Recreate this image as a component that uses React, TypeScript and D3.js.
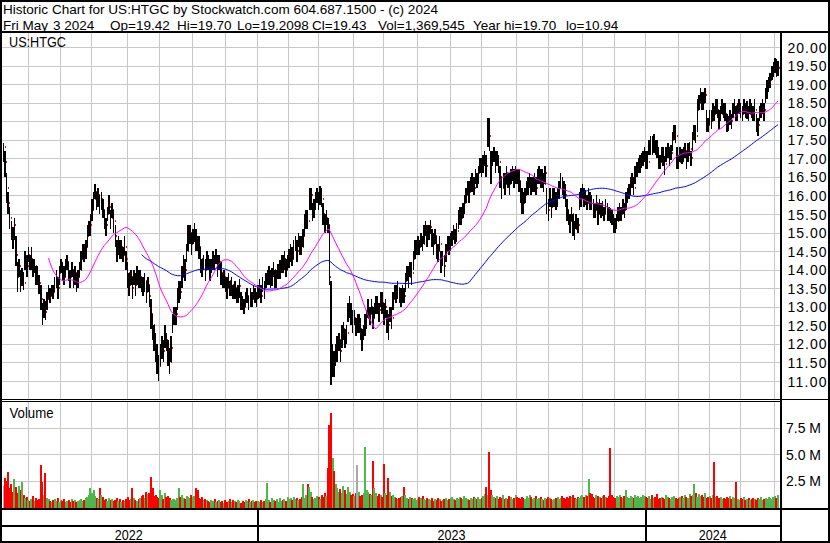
import React from 'react';
import * as d3 from 'd3';

// ---- tick labels / text ----
const titleLine1 = 'Historic Chart for US:HTGC by Stockwatch.com 604.687.1500 - (c) 2024';
const titleLine2Parts = ['Fri May', '3 2024', 'Op=19.42', 'Hi=19.70', 'Lo=19.2098', 'Cl=19.43', 'Vol=1,369,545', 'Year hi=19.70', 'lo=10.94'];
const symbolLabel = 'US:HTGC';
const priceTicks = [11, 11.5, 12, 12.5, 13, 13.5, 14, 14.5, 15, 15.5, 16, 16.5, 17, 17.5, 18, 18.5, 19, 19.5, 20];
const volTicks = [2.5, 5.0, 7.5];
const years = ['2022', '2023', '2024'];
// trading days per month (first 2022 month is partial)
const months2022 = [16, 21, 20, 23, 21, 21, 21, 21];
const months2023 = [20, 19, 23, 19, 22, 21, 20, 23, 20, 22, 21, 20];
const months2024 = [21, 20, 20, 22, 3];

// ---- daily closes ----
const close2022 = [
  17.30, 16.90, 16.20, 15.80, 15.40, 15.10, 14.85, 15.20, 14.40, 13.80, 14.10, 13.70,
  13.85, 13.65, 14.30, 14.10, 14.40, 14.20, 14.30, 14.00, 14.10, 13.90, 13.80, 13.65,
  13.20, 12.80, 13.00, 12.85, 13.20, 13.40, 13.30, 13.50, 13.40, 13.60, 13.70, 13.50, 13.90, 14.10,
  14.00, 13.80, 14.10, 14.20, 13.90, 13.80, 14.00, 13.70, 13.90, 13.60, 13.80, 14.00,
  14.30, 14.50, 14.40, 14.60, 14.90, 15.10, 15.20, 15.60, 15.90, 16.10, 15.80, 16.00,
  15.70, 15.90, 15.60, 15.30, 15.20, 15.50, 15.70, 15.40, 15.60, 15.30, 14.90, 14.50,
  14.70, 14.50, 14.60, 14.40, 14.60, 14.30, 13.90, 13.60, 13.80, 13.50, 13.80, 13.60, 13.90, 13.70,
  13.80, 13.60, 13.50, 13.70, 13.40, 13.60, 13.30, 12.80, 12.50, 12.20, 11.90,
  11.60, 11.40, 11.70, 12.00, 11.80, 12.20, 12.10, 11.80, 11.50, 11.90, 12.60, 12.70, 12.80,
  13.20, 13.50, 13.40, 13.80, 14.20, 14.00, 14.50, 14.90, 15.00, 14.70, 14.90, 15.05, 14.80, 14.70, 14.60,
  14.30, 14.10, 14.20, 14.00, 14.30, 14.20, 14.00, 14.10, 14.30, 14.20, 14.35, 14.10, 14.20,
  13.90, 13.70, 13.80, 13.60, 13.50, 13.70, 13.50, 13.60, 13.40, 13.50, 13.30, 13.40, 13.55,
  13.20, 13.10, 13.00, 13.20, 13.30, 13.10, 13.30, 13.20, 13.40, 13.30, 13.20,
];
const close2023 = [
  13.40, 13.55, 13.30, 13.60, 13.50, 13.70, 13.80,
  13.90, 13.70, 13.85, 14.00, 13.70, 13.80, 13.95, 14.05,
  14.20, 14.10, 14.30, 14.00, 14.20, 14.35,
  14.50, 14.30, 14.60, 14.70, 14.50, 14.80, 14.70, 14.60, 14.90,
  15.20, 15.40, 15.30, 15.90, 16.00, 15.50, 15.70,
  15.90, 16.00, 15.80, 16.05, 15.90, 15.50, 15.30, 15.40, 15.20,
  13.80, 11.50, 11.60, 11.50, 11.70, 11.90, 12.10, 11.80,
  12.20, 12.40, 12.10, 12.30, 12.90, 13.00, 12.80,
  12.60, 12.70, 12.50, 12.50, 12.60, 12.40, 12.20, 12.30, 12.50,
  12.70, 12.90, 12.80, 13.00, 12.70, 12.90, 13.10, 13.00, 12.90, 13.20, 13.10, 12.80, 13.00,
  12.60, 12.50, 12.80, 12.70, 13.20, 13.40, 13.30, 13.50, 13.30, 13.20, 13.40, 13.30,
  13.70, 13.90, 13.80, 14.00, 13.90, 14.30, 14.50, 14.60, 14.70, 14.60, 14.80, 14.70,
  15.00, 15.10, 14.90, 15.00, 15.15, 14.90, 14.70, 14.90, 14.60, 14.50, 14.70, 14.20, 14.30, 14.10,
  14.50, 14.70, 14.60, 14.80, 14.85, 15.00, 14.90, 15.05, 15.30, 15.50, 15.40, 15.60,
  15.80, 16.00, 16.20, 16.10, 16.30, 16.40, 16.20, 16.50, 16.40, 16.60, 16.80, 16.70, 16.90, 17.00, 16.80,
  17.90, 17.60, 16.90, 17.00, 17.10, 16.90, 17.00, 16.90,
  16.50, 16.20, 16.40, 16.30, 16.60, 16.40, 16.30, 16.50, 16.60, 16.40, 16.60, 16.50, 16.40,
  16.10, 15.90, 15.80, 16.00, 16.20, 16.30, 16.40, 16.20, 16.30, 16.40, 16.20, 16.50, 16.60,
  16.40, 16.50, 16.30, 16.60, 15.80, 15.60, 15.90, 15.70, 15.90, 16.00, 15.80, 16.00,
  16.20, 16.40, 16.30, 16.10, 16.00, 15.60, 15.40, 15.30, 15.50, 15.20, 15.10, 15.30, 15.20,
  15.80, 16.00, 16.10, 15.90, 15.95, 15.80, 16.00, 15.90, 15.80, 15.70, 15.60, 15.80, 15.50, 15.70, 15.60,
  15.65, 15.50, 15.70, 15.60, 15.50, 15.45, 15.40, 15.30, 15.20, 15.30, 15.50,
  15.60, 15.50, 15.70, 15.60, 15.90, 16.00, 16.10, 16.30, 16.40, 16.20, 16.60, 16.70, 16.80, 16.90, 16.95, 17.00, 17.10,
];
const close2024 = [
  17.00, 16.90, 17.30, 17.40, 17.30, 17.45, 17.30, 17.20,
  17.00, 16.90, 17.10, 17.00, 16.85, 17.10, 17.20, 17.00, 17.15,
  17.50, 17.70, 17.60, 17.00, 16.90, 17.10, 17.05,
  17.10, 17.20, 17.00, 17.10, 17.25, 17.00, 17.50, 17.70, 17.60,
  18.30,
  18.50, 18.70, 18.60, 18.50, 18.70,
  18.00, 17.90, 18.10, 18.00,
  18.30, 18.20, 18.40, 18.30, 18.10, 18.20, 18.40, 18.30, 18.20,
  18.00, 17.95, 18.10, 18.00,
  18.30, 18.40, 18.20, 18.30, 18.40, 18.30, 18.20, 18.40, 18.30,
  18.35, 18.20, 18.40, 18.30, 18.20, 18.30,
  18.00, 17.90,
  18.20, 18.30, 18.40, 18.30,
  18.70, 18.90, 19.00, 19.10,
  19.30, 19.40, 19.50, 19.38, 19.43,
];

// ---- high above close / low below close, in tenths ----
const hiOff2022 = [
  1, 3, 4, 3, 3, 2, 3, 2, 5, 4, 2, 3, 2, 3, 2, 3, 2, 2, 3, 3, 2, 2, 3, 2,
  4, 3, 2, 3, 2, 2, 2, 1, 2, 2, 3, 3, 2, 2, 2, 3, 2, 2, 3, 2, 2, 3, 2, 3, 2, 2,
  2, 2, 3, 2, 3, 2, 3, 3, 2, 2, 3, 2, 3, 2, 3, 3, 2, 2, 3, 2, 2, 3, 3, 3,
  2, 3, 2, 2, 3, 2, 3, 3, 2, 3, 2, 3, 2, 3, 2, 2, 3, 2, 3, 2, 3, 4, 3, 3, 4,
  4, 3, 3, 2, 3, 3, 2, 3, 4, 3, 2, 3, 2, 3, 2, 3, 3, 2, 3, 2, 3, 2, 3, 2, 2, 3, 2, 3,
  3, 2, 2, 3, 2, 2, 3, 2, 2, 2, 2, 3, 2, 3, 2, 2, 2, 3, 2, 2, 2, 2, 2, 2, 2, 2,
  2, 2, 2, 2, 2, 2, 2, 2, 2, 2, 2,
];
const loOff2022 = [
  4, 4, 4, 3, 3, 3, 3, 4, 3, 4, 3, 3, 3, 2, 3, 3, 2, 2, 3, 2, 2, 3, 2, 3,
  3, 3, 3, 2, 3, 2, 2, 2, 2, 2, 2, 3, 3, 2, 3, 2, 3, 2, 2, 3, 2, 2, 3, 2, 3, 2,
  3, 2, 2, 3, 3, 2, 3, 3, 3, 2, 2, 3, 2, 3, 2, 2, 3, 2, 2, 3, 2, 3, 3, 3,
  3, 2, 3, 2, 2, 3, 4, 3, 2, 3, 2, 3, 3, 2, 3, 2, 2, 3, 3, 2, 3, 4, 4, 4, 4,
  4, 4, 3, 4, 3, 3, 3, 4, 3, 4, 3, 2, 3, 3, 4, 2, 3, 4, 3, 3, 4, 3, 3, 2, 3, 3, 2, 3,
  4, 3, 2, 3, 3, 2, 3, 2, 3, 2, 2, 3, 2, 3, 2, 3, 2, 3, 2, 2, 3, 2, 3, 2, 3, 3,
  3, 2, 2, 2, 2, 2, 3, 2, 2, 2, 2,
];
const hiOff2023 = [
  2, 2, 3, 2, 2, 2, 2, 2, 3, 2, 2, 3, 2, 2, 2, 2, 3, 2, 3, 2, 2,
  2, 3, 2, 2, 3, 2, 2, 3, 2, 3, 2, 3, 3, 2, 3, 2, 2, 2, 3, 2, 3, 3, 2, 2, 2,
  14, 22, 4, 3, 3, 3, 2, 3, 3, 2, 3, 2, 2, 3, 3, 3, 2, 2, 3, 2, 3, 2, 2, 3,
  2, 3, 2, 2, 3, 2, 2, 3, 2, 2, 3, 3, 2, 3, 3, 2, 3, 2, 2, 3, 2, 2, 3, 2, 2,
  2, 2, 3, 2, 3, 2, 3, 2, 2, 2, 2, 2, 2, 2, 3, 2, 2, 2, 3, 2, 3, 2, 2, 3, 2, 3,
  2, 2, 3, 2, 2, 2, 2, 2, 3, 2, 3, 2, 2, 2, 2, 3, 2, 2, 3, 2, 2, 2, 2, 3, 2, 2, 3,
  2, 5, 3, 2, 2, 3, 2, 2, 3, 3, 2, 3, 2, 2, 3, 2, 2, 3, 2, 2, 3,
  3, 3, 3, 2, 2, 2, 2, 3, 2, 2, 3, 2, 2, 3, 2, 3, 2, 4, 3, 3, 2, 3, 2, 3, 2,
  2, 2, 2, 3, 3, 3, 2, 2, 2, 3, 2, 2, 2, 3, 2, 2, 3, 2, 2, 2, 2, 2, 2, 2, 2, 3, 2, 2,
  2, 2, 2, 2, 2, 2, 2, 2, 2, 2, 2, 2, 2, 2, 2, 2, 2, 2, 2, 2, 3, 2, 2, 2, 2, 2, 2, 2,
];
const loOff2023 = [
  2, 3, 2, 2, 3, 2, 2, 3, 2, 3, 2, 2, 3, 2, 3, 3, 2, 3, 2, 2, 3,
  3, 2, 3, 2, 3, 2, 3, 2, 3, 3, 3, 2, 3, 4, 2, 3, 3, 2, 2, 3, 2, 3, 3, 2, 2,
  2, 6, 5, 4, 3, 4, 3, 3, 3, 3, 2, 3, 3, 3, 3, 3, 2, 3, 2, 3, 3, 4, 2, 3,
  3, 2, 3, 2, 3, 2, 3, 2, 3, 2, 3, 3, 3, 3, 4, 2, 3, 3, 2, 2, 3, 2, 2, 3, 2,
  3, 2, 3, 2, 3, 3, 2, 2, 3, 2, 2, 2, 3, 2, 3, 2, 2, 3, 3, 2, 3, 3, 2, 3, 2, 3,
  3, 2, 2, 3, 2, 2, 2, 3, 2, 3, 2, 2, 3, 2, 2, 3, 2, 3, 2, 2, 2, 3, 2, 2, 3, 2, 3,
  6, 4, 6, 2, 2, 3, 2, 3, 3, 3, 2, 3, 3, 2, 3, 2, 2, 2, 3, 2, 3,
  3, 4, 3, 2, 2, 3, 2, 2, 2, 3, 2, 2, 3, 2, 3, 2, 3, 3, 3, 2, 3, 2, 3, 2, 3,
  3, 2, 3, 2, 3, 3, 2, 3, 2, 3, 3, 2, 2, 2, 3, 2, 2, 2, 2, 2, 3, 2, 3, 2, 2, 3, 2, 2,
  2, 2, 2, 3, 2, 2, 2, 3, 2, 2, 2, 3, 2, 2, 2, 3, 2, 2, 3, 2, 2, 3, 2, 2, 3, 2, 2, 2,
];
const hiOff2024 = [
  2, 3, 2, 2, 3, 2, 2, 3, 3, 2, 2, 3, 2, 2, 2, 3, 2, 2, 2, 3, 3, 2, 2, 2,
  2, 2, 2, 3, 2, 2, 2, 2, 3, 3, 2, 2, 2, 3, 2, 3, 2, 2, 3,
  2, 2, 2, 3, 2, 2, 2, 2, 3, 2, 2, 2, 2, 2, 2, 2, 2, 2, 2, 2, 2,
  2, 2, 2, 2, 2, 2, 3, 2, 2, 2, 2, 2, 2, 2, 2, 2, 2, 2, 2, 2, 3,
];
const loOff2024 = [
  3, 2, 2, 3, 2, 3, 2, 2, 3, 2, 2, 2, 3, 2, 2, 2, 2, 3, 2, 2, 3, 2, 2, 2,
  2, 2, 3, 2, 2, 2, 3, 2, 2, 6, 2, 2, 3, 2, 2, 3, 2, 2, 2,
  3, 2, 2, 2, 3, 2, 2, 2, 2, 3, 2, 2, 2, 2, 2, 2, 3, 2, 2, 2, 2,
  2, 3, 2, 2, 2, 2, 3, 3, 3, 2, 2, 2, 3, 2, 3, 2, 2, 2, 2, 2, 2,
];

// ---- daily volume, in units of 100,000 shares ----
const vol2022 = [
  20, 28, 25, 33, 18, 22, 15, 27, 19, 14, 20, 16, 24, 12, 9, 10, 7, 6, 8, 11,
  6, 9, 7, 8, 40, 24, 12, 32, 9, 8, 6, 5, 7, 8, 6, 9, 5, 7, 6, 8,
  5, 6, 7, 5, 8, 6, 7, 5, 6, 7, 8, 6, 7, 9, 10, 12, 18, 14, 16, 11,
  9, 8, 18, 12, 10, 7, 8, 6, 9, 7, 8, 6, 7, 9, 6, 8, 5, 7, 6, 8,
  10, 7, 8, 18, 9, 7, 6, 8, 9, 11, 12, 9, 15, 13, 14, 29, 18, 11, 12, 10,
  9, 16, 12, 8, 14, 10, 11, 9, 7, 8, 8, 7, 9, 18, 10, 12, 9, 8, 11, 10,
  9, 12, 10, 11, 18, 16, 9, 8, 10, 7, 8, 7, 6, 5, 7, 6, 8, 5, 6, 7,
  5, 6, 4, 7, 5, 6, 8, 5, 7, 6, 5, 7, 6, 4, 6, 5, 7, 6, 8, 5,
  6, 7, 5, 6,
];
const vol2023 = [
  6, 5, 7, 5, 6, 8, 23, 7, 5, 9, 7, 6, 8, 5, 9, 6, 7, 8, 6, 10,
  8, 9, 7, 10, 8, 9, 7, 8, 10, 22, 9, 12, 22, 19, 15, 10, 8, 9, 11, 10,
  8, 12, 10, 14, 11, 37, 77, 89, 46, 34, 22, 18, 15, 17, 14, 20, 16, 13, 19, 15,
  12, 13, 11, 14, 40, 15, 11, 12, 14, 57, 16, 15, 13, 12, 44, 18, 14, 11, 13, 12,
  10, 41, 14, 12, 28, 15, 11, 12, 10, 9, 8, 9, 10, 11, 19, 12, 9, 8, 10, 9,
  8, 9, 7, 8, 10, 9, 11, 8, 7, 9, 8, 7, 9, 6, 8, 7, 9, 8, 6, 7,
  8, 9, 7, 8, 9, 10, 8, 7, 9, 8, 10, 9, 8, 11, 9, 8, 7, 9, 8, 10,
  9, 8, 10, 8, 9, 11, 13, 19, 12, 52, 16, 12, 10, 9, 11, 8, 10, 9, 12, 8,
  9, 8, 11, 10, 8, 9, 12, 10, 9, 8, 10, 9, 8, 11, 9, 12, 10, 8, 9, 11,
  8, 9, 10, 8, 7, 9, 8, 10, 9, 8, 7, 8, 9, 10, 8, 9, 11, 9, 8, 10,
  9, 11, 10, 12, 9, 8, 10, 9, 11, 12, 10, 12, 11, 27, 14, 13, 10, 9, 12, 11,
  10, 9, 11, 12, 10, 9, 11, 56, 12, 10, 9, 11, 10, 12, 10, 9, 11, 16, 10, 9,
  11, 10, 9, 12, 10, 11, 9, 10, 12, 11,
];
const vol2024 = [
  10, 9, 11, 8, 12, 9, 10, 13, 8, 9, 10, 9, 8, 12, 10, 9, 8, 10, 11, 9,
  8, 9, 10, 11, 9, 12, 10, 9, 13, 11, 12, 22, 14, 10, 13, 11, 12, 10, 14, 9,
  10, 11, 9, 12, 43, 10, 11, 9, 10, 8, 9, 8, 10, 9, 11, 8, 10, 9, 24, 8,
  7, 9, 8, 10, 7, 8, 9, 7, 8, 9, 8, 7, 9, 8, 10, 7, 8, 9, 8, 10,
  9, 8, 10, 11, 9, 12,
];

const W = 830;
const H = 543;
const FONT = '"Liberation Sans", Arial, sans-serif';

function sma(arr: number[], n: number): (number | null)[] {
  return arr.map((_, i) => (i < n - 1 ? null : (d3.mean(arr.slice(i - n + 1, i + 1)) as number)));
}

export default function App() {
  const closes = [...close2022, ...close2023, ...close2024];
  const hiOff = [...hiOff2022, ...hiOff2023, ...hiOff2024];
  const loOff = [...loOff2022, ...loOff2023, ...loOff2024];
  const vols = [...vol2022, ...vol2023, ...vol2024].map((v) => v / 10);
  const N = closes.length;
  const highs = closes.map((c, i) => c + (hiOff[i] ?? 2) / 10);
  const lows = closes.map((c, i) => c - (loOff[i] ?? 2) / 10);

  const plotRight = 780;
  const x = d3.scaleLinear().domain([0, N - 1]).range([3.5, 778]);
  const step = x(1) - x(0);
  const y = d3.scaleLinear().domain([11, 20]).range([381, 47]);
  const yv = d3.scaleLinear().domain([0, 7.5]).range([507.5, 427.5]);

  const allMonths = [...months2022, ...months2023, ...months2024];
  const monthStarts: number[] = [];
  let acc = 0;
  allMonths.forEach((m) => {
    if (acc > 0) monthStarts.push(acc);
    acc += m;
  });
  const n22 = months2022.reduce((a, b) => a + b, 0);
  const n23 = months2023.reduce((a, b) => a + b, 0);
  const yearStarts = [0, n22, n22 + n23, N];
  const gx = (i: number) => Math.round(x(i) - step / 2) + 0.5;

  const ma30 = sma(closes, 30);
  const ma90 = sma(closes, 90);
  const line = d3
    .line<number | null>()
    .defined((d) => d != null)
    .x((_, i) => x(i))
    .y((d) => y(d as number));

  const grid = '#c8c8c8';
  // x positions of the second header line's fields
  const line2X = [3, 53, 110, 177, 237, 312, 378, 473, 566];

  return (
    <svg width={W} height={H} style={{ position: 'absolute', left: 0, top: 0, background: '#fff' }} fontFamily={FONT}>
      <defs>
        <clipPath id="pc">
          <rect x={2} y={33} width={plotRight - 2} height={366} />
        </clipPath>
        <clipPath id="vc">
          <rect x={2} y={402} width={plotRight - 2} height={106} />
        </clipPath>
      </defs>
      <rect x={0} y={0} width={W} height={H} fill="#fff" />

      {/* gridlines */}
      <g shapeRendering="crispEdges" stroke={grid} strokeWidth={1}>
        {priceTicks.map((p) => (
          <line key={'hp' + p} x1={2} x2={plotRight} y1={Math.round(y(p)) + 0.5} y2={Math.round(y(p)) + 0.5} />
        ))}
        {volTicks.map((v) => (
          <line key={'hv' + v} x1={2} x2={plotRight} y1={Math.round(yv(v)) + 0.5} y2={Math.round(yv(v)) + 0.5} />
        ))}
        {monthStarts.map((i) => (
          <g key={'m' + i}>
            <line x1={gx(i)} x2={gx(i)} y1={33} y2={399} />
            <line x1={gx(i)} x2={gx(i)} y1={402} y2={508} />
          </g>
        ))}
      </g>

      {/* price bars */}
      <g clipPath="url(#pc)" shapeRendering="crispEdges">
        {closes.map((c, i) => {
          const xi = x(i);
          const yh = y(highs[i]);
          const yl = y(lows[i]);
          return (
            <g key={'b' + i}>
              <rect x={xi - 0.75} y={yh} width={1.5} height={Math.max(1, yl - yh)} fill="#000" />
              <rect x={Math.round(xi) + 1} y={Math.round(y(c)) - 1} width={1} height={2} fill="#ff0000" />
            </g>
          );
        })}
      </g>
      <g clipPath="url(#pc)" fill="none" strokeWidth={1}>
        <path d={line(ma90) || ''} stroke="#0000ff" />
        <path d={line(ma30) || ''} stroke="#ff00ff" />
      </g>

      {/* volume bars */}
      <g clipPath="url(#vc)" shapeRendering="crispEdges">
        {vols.map((v, i) => {
          const prev = i > 0 ? closes[i - 1] : closes[i];
          const col = closes[i] > prev ? '#4cb84c' : closes[i] < prev ? '#ff0000' : '#a8a8a8';
          return <rect key={'v' + i} x={Math.round(x(i)) - 1} y={yv(v)} width={2} height={yv(0) - yv(v)} fill={col} />;
        })}
      </g>

      {/* frame lines */}
      <g stroke="#000" shapeRendering="crispEdges" fill="none">
        <rect x={1} y={1} width={W - 2} height={H - 2} strokeWidth={2} />
        <line x1={0} x2={W} y1={32} y2={32} strokeWidth={2} />
        <line x1={plotRight + 1} x2={plotRight + 1} y1={32} y2={541} strokeWidth={2} />
        <line x1={0} x2={W} y1={399.5} y2={399.5} strokeWidth={1} />
        <line x1={0} x2={plotRight} y1={401.5} y2={401.5} strokeWidth={1} />
        <line x1={0} x2={W} y1={509} y2={509} strokeWidth={2} />
        <line x1={0} x2={plotRight} y1={526} y2={526} strokeWidth={2} />
        {yearStarts.slice(1, 3).map((i) => (
          <line key={'ys' + i} x1={gx(i)} x2={gx(i)} y1={509} y2={541} strokeWidth={2} />
        ))}
      </g>

      {/* texts */}
      <text x={3} y={14} fontSize={13.5} textLength={435} lengthAdjust="spacingAndGlyphs">
        {titleLine1}
      </text>
      {titleLine2Parts.map((t, k) => (
        <text key={'t2' + k} x={line2X[k]} y={29.5} fontSize={13.5}>
          {t}
        </text>
      ))}
      <text x={9} y={46.7} fontSize={14} textLength={57} lengthAdjust="spacingAndGlyphs">
        {symbolLabel}
      </text>
      <text x={9.5} y={418} fontSize={14} textLength={44} lengthAdjust="spacingAndGlyphs">
        Volume
      </text>
      {priceTicks.map((p) => (
        <text key={'pl' + p} x={787.5} y={y(p) + 5.5} fontSize={14} textLength={39} lengthAdjust="spacing" fill="#000">
          {d3.format('.2f')(p)}
        </text>
      ))}
      {volTicks.map((v) => (
        <text key={'vl' + v} x={786} y={yv(v) + 5.5} fontSize={14} fill="#000">
          {d3.format('.1f')(v) + ' M'}
        </text>
      ))}
      {years.map((yr, k) => {
        const a = k === 0 ? 0 : gx(yearStarts[k]);
        const b = k === 2 ? plotRight : gx(yearStarts[k + 1]);
        return (
          <text key={yr} x={(a + b) / 2} y={540} fontSize={14} textAnchor="middle" textLength={28} lengthAdjust="spacingAndGlyphs">
            {yr}
          </text>
        );
      })}
    </svg>
  );
}
